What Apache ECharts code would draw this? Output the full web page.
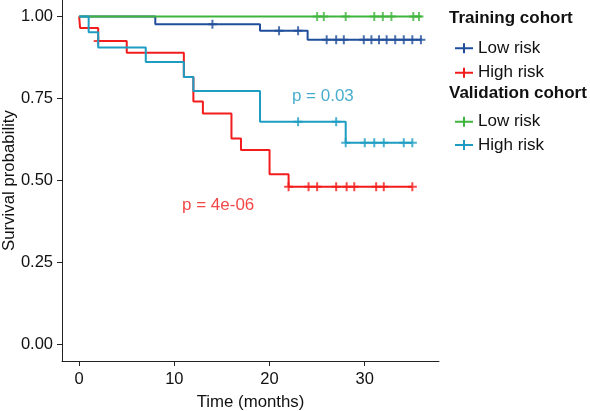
<!DOCTYPE html>
<html><head><meta charset="utf-8">
<script src="https://cdn.jsdelivr.net/npm/echarts@6/dist/echarts.min.js"></script>
<style>html,body{margin:0;padding:0;background:#fff}#c{width:590px;height:411px}</style>
</head><body><div id="c"></div>
<script>
// ---- data ----
const xTicks = [0, 10, 20, 30];
const yTicks = [0, 0.25, 0.5, 0.75, 1];
const yTickLabels = ['0.00', '0.25', '0.50', '0.75', '1.00'];

const trainLowTime = [0, 8, 19, 24, 36];
const trainLowSurv = [1, 0.976, 0.956, 0.929, 0.929];
const trainLowCensor = [14, 21, 23, 26, 27, 27.8, 29.9, 30.7, 31.5, 32.3, 33.2, 34.1, 35, 35.9];

const trainHighTime = [0, 0.1, 2, 5, 11, 12, 13, 16, 17, 20, 22, 35];
const trainHighSurv = [1, 0.965, 0.925, 0.889, 0.815, 0.741, 0.704, 0.628, 0.593, 0.519, 0.481, 0.481];
const trainHighCensor = [2, 22, 24.1, 25, 27, 28.1, 28.9, 31.2, 32, 35];

const validLowTime = [0, 36];
const validLowSurv = [1, 1];
const validLowCensor = [25, 25.7, 28, 31, 31.9, 32.8, 35.1, 35.7];

const validHighTime = [0, 1, 2, 7, 11, 12, 19, 28, 35];
const validHighSurv = [1, 0.952, 0.905, 0.861, 0.815, 0.773, 0.679, 0.615, 0.615];
const validHighCensor = [23, 27, 28, 30, 31, 32, 34.1, 35];

const groupNames = ['Training|Low risk', 'Training|High risk', 'Validation|Low risk', 'Validation|High risk'];
const groupTitles = ['Training cohort', 'Validation cohort'];
const pTexts = ['p = 4e-06', 'p = 0.03'];
const pPos = [[14.6, 0.423], [25.6, 0.758]];

// ---- build ----
const colors = ['#1f4e9a', '#f21c1c', '#3fb43c', '#1e9dc2'];
const FONT = '"Liberation Sans", Arial, Helvetica, sans-serif';
const groups = [
  [trainLowTime, trainLowSurv, trainLowCensor],
  [trainHighTime, trainHighSurv, trainHighCensor],
  [validLowTime, validLowSurv, validLowCensor],
  [validHighTime, validHighSurv, validHighCensor]
];
function survAt(times, surv, t) {
  let s = surv[0];
  for (let i = 0; i < times.length; i++) if (times[i] <= t) s = surv[i];
  return s;
}
const plusPath = 'path://M0,3.5H9V5.5H0Z M3.5,0H5.5V9H3.5Z';
const series = [];
groups.forEach((g, i) => {
  const [T, S, C] = g;
  series.push({
    name: groupNames[i], type: 'line', step: 'end', showSymbol: false, symbol: 'none',
    color: colors[i], lineStyle: { width: 2, color: colors[i] },
    data: T.map((t, k) => [t, S[k]]), silent: true
  });
  series.push({
    name: groupNames[i], type: 'scatter', symbol: plusPath, symbolSize: 9,
    itemStyle: { color: colors[i] }, silent: true,
    data: C.map(t => [t, survAt(T, S, t)])
  });
});
pTexts.forEach((txt, i) => {
  const c = i === 0 ? '#f01818' : '#1a98c0';
  series.push({
    type: 'scatter', symbolSize: 0, silent: true,
    data: [pPos[i]],
    label: { show: true, position: 'inside', formatter: txt, color: c, fontSize: 17, fontFamily: FONT }
  });
});

const legendTops = [33.3, 57.7, 106.7, 130];
const legends = groupNames.map((n, i) => ({
  data: [n], left: 450, top: legendTops[i], orient: 'vertical',
  icon: 'path://M0,4H18V6H0Z M8,0H10V10H8Z', itemWidth: 18, itemHeight: 10,
  selectedMode: false,
  formatter: name => name.split('|')[1],
  textStyle: { fontSize: 17, color: '#111', fontFamily: FONT, lineHeight: 20 }
}));

const axisCommon = {
  axisLine: { show: true, onZero: false, lineStyle: { color: '#222', width: 1 } },
  axisTick: { show: true, length: 5, lineStyle: { color: '#222', width: 1 } },
  splitLine: { show: false },
  nameMoveOverlap: false,
  nameTextStyle: { fontSize: 16.8, color: '#111', fontFamily: FONT }
};

const chart = echarts.init(document.getElementById('c'), null, { renderer: 'canvas' });
chart.setOption({
  animation: false,
  backgroundColor: '#fff',
  grid: { left: 62, top: 0, right: 151, bottom: 50, containLabel: false, outerBoundsMode: 'none' },
  xAxis: Object.assign({}, axisCommon, {
    type: 'value', min: -1.8, max: 37.8,
    name: 'Time (months)', nameLocation: 'middle', nameGap: 33,
    axisTick: Object.assign({}, axisCommon.axisTick, { customValues: xTicks }),
    axisLabel: { customValues: xTicks, fontSize: 16.5, color: '#111', fontFamily: FONT, margin: 10 }
  }),
  yAxis: Object.assign({}, axisCommon, {
    type: 'value', min: -0.05, max: 1.05,
    name: 'Survival probability', nameLocation: 'middle', nameGap: 44,
    axisTick: Object.assign({}, axisCommon.axisTick, { customValues: yTicks }),
    axisLabel: {
      customValues: yTicks, fontSize: 16.5, color: '#111', fontFamily: FONT, margin: 9,
      formatter: v => yTickLabels[yTicks.indexOf(v)] !== undefined ? yTickLabels[yTicks.indexOf(v)] : ''
    }
  }),
  legend: legends,
  graphic: groupTitles.map((t, i) => ({
    type: 'text', left: 449, top: (i === 0 ? 18.3 : 93.3) - 10,
    style: { text: t, font: 'bold 17px ' + FONT, fill: '#111', lineHeight: 20 }
  })),
  series: series
});
</script></body></html>
